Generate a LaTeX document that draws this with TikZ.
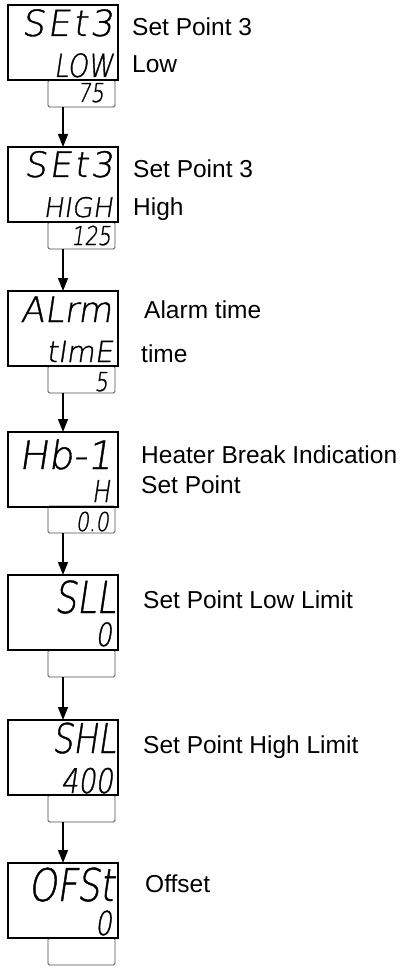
\documentclass[tikz,border=0pt]{standalone}
\usepackage{fontspec}
\setmainfont{Liberation Sans}
\newfontfamily\lcdfont{DejaVu Sans ExtraLight}[FakeSlant=0.15,FakeBold=1]
\newfontfamily\lcdwide{DejaVu Sans ExtraLight}[FakeSlant=0.15,FakeBold=1,LetterSpace=8]
\newfontfamily\lcdnarrow{DejaVu Sans ExtraLight}[FakeSlant=0.15,FakeBold=1,FakeStretch=0.8]
\usetikzlibrary{arrows.meta}
\begin{document}
\begin{tikzpicture}[x=1pt,y=-1pt,
  mainbox/.style={draw=black, line width=1.2pt, minimum width=110pt, minimum height=75pt, anchor=north west, inner sep=0pt, outer sep=0pt},
  subbox/.style={draw=black!70, line width=0.8pt, rounded corners=1.5pt, minimum width=67pt, minimum height=27pt, anchor=north west, inner sep=0pt, outer sep=0pt},
  lcd/.style={font=\lcdfont\fontsize{#1}{#1}\selectfont, anchor=base east, inner sep=0pt},
  lcdw/.style={font=\lcdwide\fontsize{#1}{#1}\selectfont, anchor=base east, inner sep=0pt},
  lcdn/.style={font=\lcdnarrow\fontsize{#1}{#1}\selectfont, anchor=base east, inner sep=0pt},
  subtxt/.style={font=\lcdnarrow\fontsize{26pt}{26pt}\selectfont, anchor=base east, inner sep=0pt},
  lbl/.style={font=\fontsize{24.5pt}{29pt}\selectfont, anchor=base west, inner sep=0pt},
  arr/.style={line width=1.2pt, -{Triangle[length=13pt,width=10pt]}}]
\useasboundingbox (0,0) rectangle (403,968);
% block 1
\node[subbox] (s1) at (48,80) {};
\node[mainbox] (m1) at (8,5) {};
\node[lcdw=36pt] (a1) at (113,36) {SEt3};
\node[lcdn=32pt] (b1) at (113,77) {LOW};
\node[subtxt] (c1) at (104,102) {75};
\node[lbl] (l1a) at (132,36) {Set Point 3};
\node[lbl] (l1b) at (132,73) {Low};
% block 2
\node[subbox] (s2) at (48,222) {};
\node[mainbox] (m2) at (8,147) {};
\node[lcdw=35pt] (a2) at (113,177) {SEt3};
\node[lcd=27pt] (b2) at (113,217) {HIGH};
\node[subtxt] (c2) at (111,245) {125};
\node[lbl] (l2a) at (133,178) {Set Point 3};
\node[lbl] (l2b) at (133,215) {High};
% block 3
\node[subbox] (s3) at (48,366) {};
\node[mainbox] (m3) at (8,291) {};
\node[lcd=35pt] (a3) at (112,322) {ALrm};
\node[lcd=29pt] (b3) at (113,362) {tImE};
\node[subtxt] (c3) at (108,391) {5};
\node[lbl] (l3a) at (144,318) {Alarm time};
\node[lbl] (l3b) at (141,362) {time};
% block 4
\node[subbox] (s4) at (48,506) {};
\node[mainbox] (m4) at (8,432) {};
\node[lcd=39pt] (a4) at (112,469) {Hb-1};
\node[lcdn=30pt] (b4) at (110,502) {H};
\node[subtxt] (c4) at (109,531) {0.0};
\node[lbl] (l4a) at (141,463) {Heater Break Indication};
\node[lbl] (l4b) at (141,493) {Set Point};
% block 5
\node[subbox] (s5) at (48,650) {};
\node[mainbox] (m5) at (8,575) {};
\node[lcdn=44pt] (a5) at (116,613) {SLL};
\node[lcdn=32pt] (b5) at (112,646) {0};
\node[lbl] (l5a) at (143,608) {Set Point Low Limit};
% block 6
\node[subbox] (s6) at (48,795) {};
\node[mainbox] (m6) at (8,720) {};
\node[lcdn=41pt] (a6) at (116,753) {SHL};
\node[lcdn=34pt] (b6) at (113,793) {400};
\node[lbl] (l6a) at (143,753) {Set Point High Limit};
% block 7
\node[subbox] (s7) at (48,938) {};
\node[mainbox] (m7) at (8,863) {};
\node[lcdn=45pt] (a7) at (114,901) {OFSt};
\node[lcdn=33pt] (b7) at (112,935) {0};
\node[lbl] (l7a) at (145,892) {Offset};
% connectors
\draw[arr] (m1.south |- s1.south) -- (m2.north);
\draw[arr] (m2.south |- s2.south) -- (m3.north);
\draw[arr] (m3.south |- s3.south) -- (m4.north);
\draw[arr] (m4.south |- s4.south) -- (m5.north);
\draw[arr] (m5.south |- s5.south) -- (m6.north);
\draw[arr] (m6.south |- s6.south) -- (m7.north);
\end{tikzpicture}
\end{document}
